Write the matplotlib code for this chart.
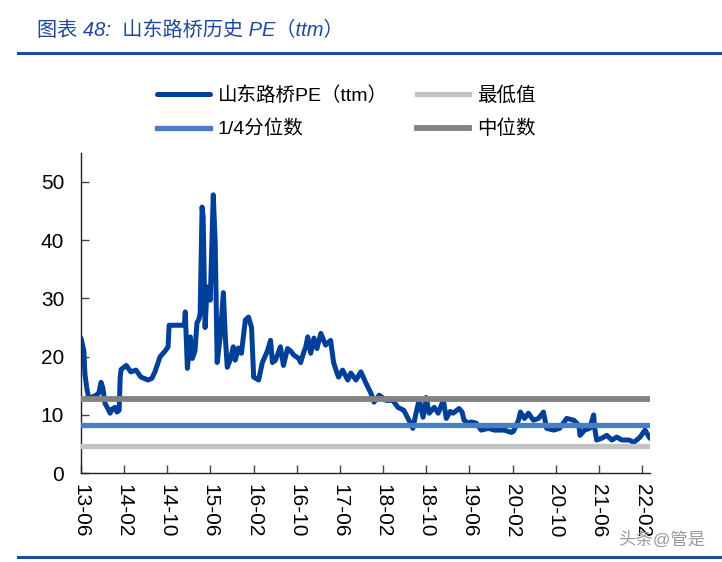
import matplotlib
matplotlib.use("Agg")
import matplotlib.pyplot as plt
import matplotlib.dates as mdates
from matplotlib.lines import Line2D
import pandas as pd

plt.rcParams["font.family"] = ["Liberation Sans", "Noto Sans CJK SC", "DejaVu Sans"]

# PE (ttm) series
dates = [
    "2013-06-01", "2013-06-07", "2013-06-18", "2013-06-24", "2013-07-05", "2013-07-16",
    "2013-07-27", "2013-08-14", "2013-08-31", "2013-09-11", "2013-09-23", "2013-10-04",
    "2013-10-15", "2013-11-02", "2013-11-13", "2013-11-24", "2013-12-11", "2013-12-22",
    "2014-01-03", "2014-01-09", "2014-01-14", "2014-02-12", "2014-03-10", "2014-04-08",
    "2014-05-06", "2014-06-15", "2014-07-07", "2014-07-24", "2014-08-22", "2014-09-20",
    "2014-10-06", "2014-10-12", "2015-01-06", "2015-01-11", "2015-01-23", "2015-02-09",
    "2015-02-20", "2015-03-07", "2015-03-18", "2015-03-30", "2015-04-05", "2015-04-16",
    "2015-04-22", "2015-05-03", "2015-05-14", "2015-06-01", "2015-06-18", "2015-06-29",
    "2015-07-10", "2015-07-27", "2015-08-14", "2015-08-25", "2015-09-05", "2015-09-22",
    "2015-10-09", "2015-10-20", "2015-11-07", "2015-11-24", "2015-12-16", "2016-01-03",
    "2016-01-20", "2016-02-01", "2016-02-29", "2016-03-21", "2016-04-19", "2016-05-06",
    "2016-05-17", "2016-06-03", "2016-07-01", "2016-07-18", "2016-08-10", "2016-08-27",
    "2016-09-14", "2016-10-12", "2016-10-23", "2016-11-10", "2016-11-21", "2016-12-02",
    "2016-12-19", "2017-01-06", "2017-01-23", "2017-02-14", "2017-03-02", "2017-03-13",
    "2017-03-30", "2017-04-10", "2017-04-27", "2017-05-14", "2017-05-25", "2017-06-17",
    "2017-07-16", "2017-08-02", "2017-08-31", "2017-09-28", "2017-10-26", "2017-11-24",
    "2017-12-11", "2018-01-09", "2018-02-18", "2018-03-27", "2018-04-25", "2018-05-28",
    "2018-06-26", "2018-07-18", "2018-08-05", "2018-08-22", "2018-09-14", "2018-10-01",
    "2018-10-18", "2018-11-16", "2018-12-08", "2019-01-06", "2019-01-23", "2019-02-14",
    "2019-03-02", "2019-04-05", "2019-04-22", "2019-05-03", "2019-05-26", "2019-06-12",
    "2019-07-10", "2019-08-08", "2019-09-17", "2019-10-21", "2019-12-16", "2020-01-25",
    "2020-02-06", "2020-03-05", "2020-03-16", "2020-04-08", "2020-04-30", "2020-05-28",
    "2020-06-26", "2020-07-24", "2020-08-11", "2020-09-20", "2020-10-23", "2020-12-02",
    "2021-01-11", "2021-02-09", "2021-02-15", "2021-03-13", "2021-04-11", "2021-05-03",
    "2021-05-09", "2021-05-20", "2021-06-18", "2021-07-16", "2021-08-14", "2021-09-11",
    "2021-10-09", "2021-11-18", "2021-12-16", "2022-01-20", "2022-02-17", "2022-03-16",
]
pe_ttm = [
    23.2, 22.5, 21.0, 17.0, 14.5, 12.8,
    13.0, 13.2, 13.5, 13.8, 15.6, 14.5,
    12.0, 11.0, 10.3, 11.0, 11.3, 10.5,
    10.8, 16.5, 17.8, 18.5, 17.4, 17.7,
    16.5, 16.0, 16.3, 17.4, 20.0, 21.0,
    21.7, 25.4, 25.4, 27.7, 18.0, 23.4,
    19.7, 21.0, 25.8, 26.5, 27.5, 45.7,
    44.0, 25.0, 32.0, 29.7, 47.8, 39.5,
    19.0, 23.4, 31.0, 23.4, 18.2, 19.5,
    21.7, 19.4, 21.5, 20.6, 26.3, 26.8,
    25.0, 16.5, 16.0, 19.0, 21.0, 22.8,
    19.0, 19.4, 21.7, 18.5, 21.4, 21.0,
    20.3, 19.7, 19.0, 20.8, 21.7, 23.4,
    20.6, 23.2, 21.4, 24.0, 22.8, 22.0,
    22.5, 22.8, 19.0, 17.4, 16.5, 17.7,
    16.0, 17.2, 16.0, 17.4, 15.5, 13.7,
    12.2, 13.4, 12.5, 12.5, 11.3, 10.8,
    9.1, 7.7, 10.3, 12.5, 9.6, 13.0,
    10.3, 11.3, 10.3, 12.5, 9.4, 10.6,
    10.3, 11.1, 10.5, 9.1, 8.6, 8.8,
    8.6, 7.4, 7.7, 7.4, 7.4, 7.0,
    7.2, 9.1, 10.5, 9.4, 10.3, 9.1,
    9.4, 10.5, 7.7, 7.4, 7.7, 9.4,
    9.1, 8.2, 6.5, 7.4, 7.7, 10.0,
    7.7, 5.7, 6.0, 6.5, 5.7, 6.2,
    5.7, 5.7, 5.3, 6.2, 7.4, 6.0,
]
pe_min = 4.7
pe_quarter = 8.3
pe_median = 12.8

series_label = "山东路桥PE（ttm）"
min_label = "最低值"
quarter_label = "1/4分位数"
median_label = "中位数"
title_text = "图表 48:  山东路桥历史 PE（ttm）"

c_pe = "#004098"
c_min = "#C3C3C3"
c_quarter = "#4A7EC4"
c_median = "#828282"
c_title = "#1F4A9C"

x = pd.to_datetime(dates)

fig = plt.figure(figsize=(7.22, 5.62), dpi=100)
ax = fig.add_axes([0.112, 0.158, 0.788, 0.570])

h_pe, = ax.plot(x, pe_ttm, color=c_pe, lw=3.6, solid_joinstyle="round",
                solid_capstyle="round", zorder=2)
h_min = ax.axhline(pe_min, color=c_min, lw=3.8, zorder=3)
h_q = ax.axhline(pe_quarter, color=c_quarter, lw=3.8, zorder=3)
h_med = ax.axhline(pe_median, color=c_median, lw=4.2, zorder=3)

ax.set_xlim(x[0], x[-1])
ax.set_ylim(0, 55)
ax.set_yticks(range(0, 51, 10))
ticks = pd.date_range(dates[0], "2022-03-01", freq="8MS")
ax.set_xticks(ticks)
ax.xaxis.set_major_formatter(mdates.DateFormatter("%y-%m"))
for lbl in ax.get_xticklabels():
    lbl.set_rotation(-90)
    lbl.set_va("top")
    lbl.set_ha("center")
ax.tick_params(axis="both", direction="in", length=6, width=1, color="#444444",
               labelsize=15, pad=8)
ax.tick_params(axis="y", pad=12)
for side in ("top", "right"):
    ax.spines[side].set_visible(False)
for side in ("left", "bottom"):
    ax.spines[side].set_color("#222222")
    ax.spines[side].set_linewidth(1.0)

fig.legend([h_pe, h_q, h_min, h_med],
           [series_label, quarter_label, min_label, median_label],
           ncol=2, frameon=False, loc="center", bbox_to_anchor=(0.48, 0.80),
           fontsize=14, handlelength=2.7, columnspacing=1.5, labelspacing=0.75,
           handletextpad=0.4)

fig.text(0.051, 0.946, title_text, fontsize=14.5, style="italic", color=c_title,
         va="center", ha="left")
fig.add_artist(Line2D([0.025, 1.0], [0.905, 0.905], color="#1F4A9C", lw=2.2,
                      transform=fig.transFigure))
fig.add_artist(Line2D([0.025, 1.0], [0.009, 0.009], color="#1F4A9C", lw=2.2,
                      transform=fig.transFigure))
fig.text(0.977, 0.04, "头条@管是", fontsize=12.5, color="#9A9A9A", ha="right",
         va="center")

fig.savefig("out.png", dpi=100)
